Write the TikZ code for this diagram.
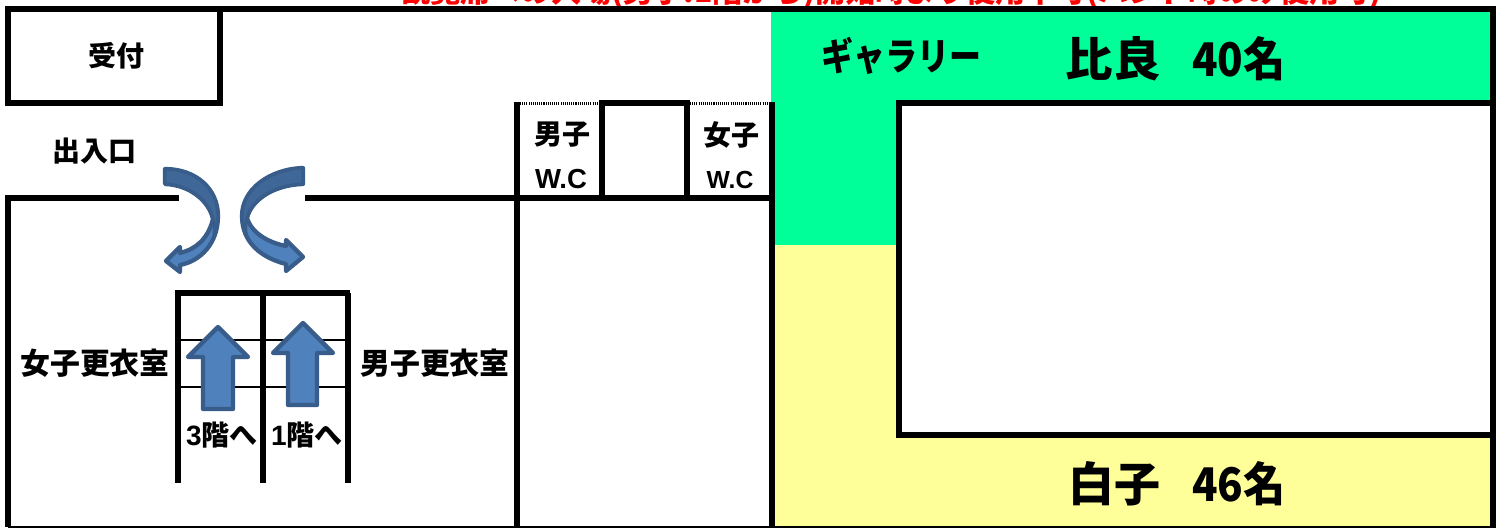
\documentclass[tikz,border=0pt]{standalone}
\usepackage{graphicx}
\usepackage{fontspec}
\newfontfamily\jp{Noto Sans CJK JP}
\newfontfamily\arl{Liberation Sans}
\definecolor{galgreen}{HTML}{00FF99}
\definecolor{galyellow}{HTML}{FFFF99}
\definecolor{arrfill}{HTML}{4F81BD}
\definecolor{arrline}{HTML}{385D8A}
\definecolor{arrdark}{HTML}{3F6797}
\tikzset{
  wall/.style={line width=4.4pt,line cap=butt,black},
  thinwall/.style={line width=2.1pt,black},
  lab/.style={font=\jp\bfseries\fontsize{21}{21}\selectfont,inner sep=0pt,text=black},
  labwide/.style={font=\jp\bfseries\fontsize{22.4}{22.4}\selectfont,inner sep=0pt,text=black},
  arrowshape/.style={fill=arrfill,draw=arrline,line width=3.2pt,line join=round},
  arrowband/.style={fill=arrdark,draw=arrline,line width=2.4pt,line join=round},
}
\begin{document}
\begin{tikzpicture}[x=0.75pt,y=-0.75pt]
\useasboundingbox (0,0) rectangle (1502,528);
\fill[white] (0,0) rectangle (1502,528);
% gallery floor colours
\fill[galgreen] (771,12) rectangle (1491,100);
\fill[galgreen] (771,100) rectangle (899,245);
\fill[galyellow] (771,245) rectangle (899,527);
\fill[galyellow] (899,434) rectangle (1491,527);
% red line cut off by the top edge; only the feet of the glyphs show (wording is a best guess)
\begin{scope}
\clip (0,0) rectangle (1502,6);
\node[anchor=base west,inner sep=0pt,text=red] (redline) at (400,3)
  {\resizebox{736pt}{!}{\jp\bfseries\fontsize{21}{21}\selectfont 観覧席への入場(男子:1階から)開始時より使用不可(ハンド時のみ使用可)}};
\end{scope}
% outer lines
\draw[wall] (5,9) -- (1496,9);
\draw[wall] (1493,6) -- (1493,528);
\draw[line width=1.1pt,black] (8,527) -- (1491,527);
% reception
\draw[wall] (8,6) -- (8,103) -- (220,103) -- (220,6);
\draw[wall] (5,103) -- (223,103);
% corridor wall
\draw[wall] (179,198) -- (5,198);
\draw[wall] (8,195) -- (8,527);
\draw[wall] (305,198) -- (775,198);
\draw[wall] (517,102) -- (517,527);
\draw[wall] (772,102) -- (772,527);
% toilets
\draw[wall] (602,100) -- (602,198);
\draw[wall] (687,100) -- (687,198);
\draw[wall] (599,103) -- (690,103);
\draw[line width=2.2pt,dash pattern=on 0.8pt off 0.8pt] (520,103.5) -- (599,103.5) (690,103.5) -- (769,103.5);
% gallery room
\draw[wall] (899,435) -- (899,100);
\draw[wall] (896,103) -- (1491,103);
\draw[wall] (896,435) -- (1491,435);
% lockers
\draw[wall] (175,293) -- (350,293);
\draw[wall] (178,293) -- (178,483);
\draw[wall] (263,293) -- (263,483);
\draw[wall] (348,293) -- (348,483);
\draw[thinwall] (178,340) -- (348,340);
\draw[thinwall] (178,387) -- (348,387);
% up arrows
\draw[arrowshape] (218,327) -- (248,357) -- (233,357) -- (233,409) -- (203,409) -- (203,357) -- (188,357) -- cycle;
\draw[arrowshape] (303,323) -- (333,353) -- (317,353) -- (317,405) -- (288,405) -- (288,353) -- (273,353) -- cycle;
% curved arrows
\draw[arrowshape] (165,169) .. controls (196,169) and (218,189) .. (218,216)
  .. controls (218,243) and (201,261) .. (180,265) -- (180,272) -- (166,261) -- (180,247) -- (180,253)
  .. controls (196,249) and (208,239) .. (213,219)
  .. controls (209,201) and (190,185) .. (165,184) -- cycle;
\draw[arrowband] (165,169) .. controls (196,169) and (218,189) .. (218,216)
  .. controls (218,223) and (217,228) .. (214,234)
  .. controls (215,226) and (214,222) .. (213,219)
  .. controls (209,201) and (190,185) .. (165,184) -- cycle;
\draw[arrowshape] (303,168) .. controls (270,169) and (242,189) .. (242,216)
  .. controls (242,243) and (262,258) .. (286,264) -- (286,271) -- (303,257) -- (286,240) -- (286,246)
  .. controls (270,243) and (252,234) .. (247,218)
  .. controls (251,201) and (272,185) .. (303,184) -- cycle;
\draw[arrowband] (303,168) .. controls (270,169) and (242,189) .. (242,216)
  .. controls (242,223) and (243,228) .. (246,234)
  .. controls (245,226) and (246,222) .. (247,218)
  .. controls (251,201) and (272,185) .. (303,184) -- cycle;
% labels
\node[lab] (reception) at (116,56) {受付};
\node[lab] (entrance) at (94,151) {出入口};
\node[labwide] (womenroom) at (95,363) {女子更衣室};
\node[labwide] (menroom) at (435,363) {男子更衣室};
\node[lab] (tothree) at (222,435) {{\arl\bfseries 3}階へ};
\node[lab] (toone) at (307,435) {{\arl\bfseries 1}階へ};
\node[lab] (menwc) at (562,135) {男子};
\node[lab] (menwcb) at (561,179) {\resizebox{39pt}{!}{\arl\bfseries W.C}};
\node[lab] (womenwc) at (731,135) {女子};
\node[lab] (womenwcb) at (730,180) {\resizebox{35pt}{!}{\arl\bfseries W.C}};
\node[lab] (gallery) at (901,56) {\resizebox{120pt}{25pt}{ギャラリー}};
\node[lab] (hira) at (1113,59) {\resizebox{71pt}{30pt}{比良}};
\node[lab] (hiranum) at (1239,59) {\resizebox{70pt}{30pt}{40名}};
\node[lab] (shirako) at (1114,484) {\resizebox{69pt}{30pt}{白子}};
\node[lab] (shirakonum) at (1239,484) {\resizebox{70pt}{30pt}{46名}};
\end{tikzpicture}
\end{document}
